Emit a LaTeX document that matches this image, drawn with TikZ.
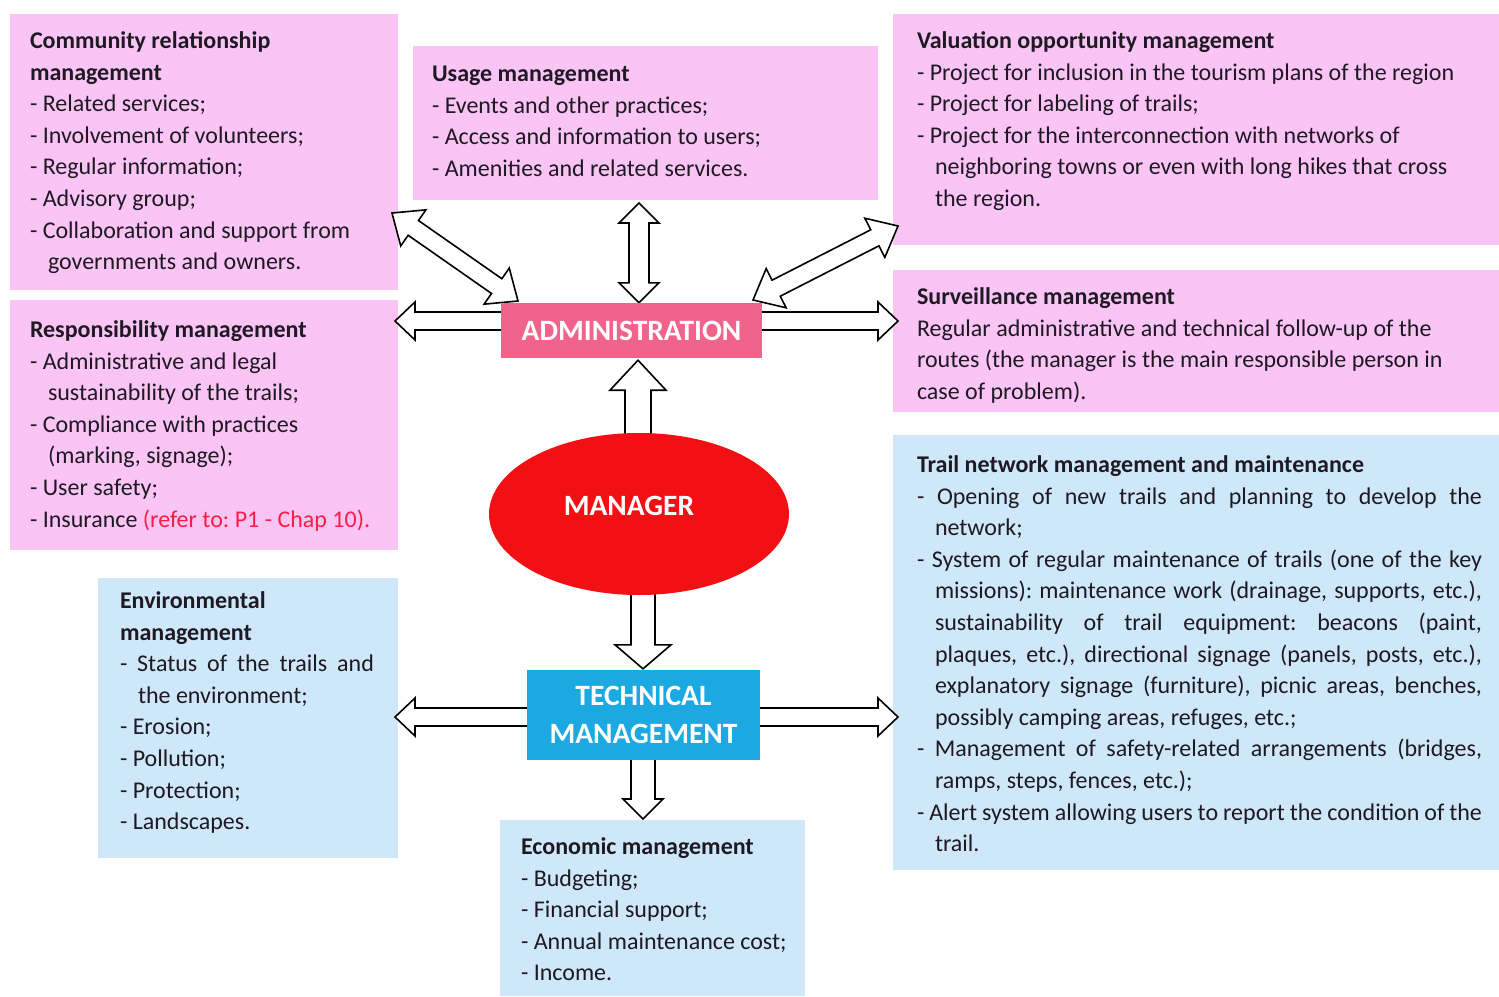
\documentclass[tikz,border=0pt]{standalone}
\usepackage{fontspec}
\setmainfont{Carlito}
\usetikzlibrary{calc,shapes.geometric}
\definecolor{pinkbg}{RGB}{250,196,245}
\definecolor{bluebg}{RGB}{206,232,249}
\definecolor{adminc}{RGB}{240,100,140}
\definecolor{mgrc}{RGB}{243,16,20}
\definecolor{techc}{RGB}{28,168,224}
\definecolor{txtc}{RGB}{30,25,35}
\definecolor{refc}{RGB}{250,30,70}
\pgfdeclarelayer{bg}\pgfdeclarelayer{arr}\pgfsetlayers{bg,arr,main}
\frenchspacing
\newcommand\ind{\hspace*{18pt}}
\newcommand\st{\rule{0pt}{19pt}}
% single block arrow: from, to, shaft half width, head half width, head length
\newcommand\sarrow[5]{\draw[blk] let \p1=(#1),\p2=(#2),\n1={atan2(\y2-\y1,\x2-\x1)},\n2={veclen(\x2-\x1,\y2-\y1)} in [shift={(\p1)},rotate=\n1] (0pt,-#3) -- ({\n2-#5},-#3) -- ({\n2-#5},-#4) -- ({\n2+0pt},0pt) -- ({\n2-#5},#4) -- ({\n2-#5},#3) -- (0pt,#3) -- cycle;}
% double block arrow
\newcommand\darrow[5]{\draw[blk] let \p1=(#1),\p2=(#2),\n1={atan2(\y2-\y1,\x2-\x1)},\n2={veclen(\x2-\x1,\y2-\y1)} in [shift={(\p1)},rotate=\n1] (0pt,0pt) -- (#5,#4) -- (#5,#3) -- ({\n2-#5},#3) -- ({\n2-#5},#4) -- ({\n2+0pt},0pt) -- ({\n2-#5},-#4) -- ({\n2-#5},-#3) -- (#5,-#3) -- (#5,-#4) -- cycle;}
\tikzset{
  box/.style={inner sep=0pt, outer sep=0pt, anchor=north west},
  pinkbox/.style={box, fill=pinkbg},
  bluebox/.style={box, fill=bluebg},
  txt/.style={inner sep=0pt, outer sep=0pt, anchor=north west, align=left, text=txtc, font=\fontsize{24}{31.6}\selectfont\frenchspacing},
  blk/.style={draw=black, fill=white, line width=1.6pt, line join=miter},
  lbl/.style={text=white, font=\bfseries\fontsize{29.5}{38}\selectfont, inner sep=0pt}
}
\begin{document}
\begin{tikzpicture}[x=1pt,y=-1pt]
\useasboundingbox (0,0) rectangle (1499,996);
\begin{pgfonlayer}{bg}
\fill[white] (0,0) rectangle (1499,996);
% boxes
\node[pinkbox, minimum width=388pt, minimum height=276pt] (b1) at (10,14) {};
\node[pinkbox, minimum width=465pt, minimum height=154pt] (b2) at (413,46) {};
\node[pinkbox, minimum width=606pt, minimum height=231pt] (b3) at (893,14) {};
\node[pinkbox, minimum width=388pt, minimum height=250pt] (b4) at (10,300) {};
\node[pinkbox, minimum width=606pt, minimum height=142pt] (b5) at (893,270) {};
\node[bluebox, minimum width=300pt, minimum height=280pt] (b6) at (98,578) {};
\node[bluebox, minimum width=606pt, minimum height=435pt] (b7) at (893,435) {};
\node[bluebox, minimum width=305pt, minimum height=176pt] (b8) at (500,820) {};
% texts
\node[txt] (t1) at (30,29.5) {\st\textbf{Community relationship}\\ \textbf{management}\\ - Related services;\\ - Involvement of volunteers;\\ - Regular information;\\ - Advisory group;\\ - Collaboration and support from\\ \ind governments and owners.};
\node[txt] (t2) at (432,62.5) {\st\textbf{Usage management}\\ - Events and other practices;\\ - Access and information to users;\\ - Amenities and related services.};
\node[txt] (t3) at (917,29.5) {\st\textbf{Valuation opportunity management}\\ - Project for inclusion in the tourism plans of the region\\ - Project for labeling of trails;\\ - Project for the interconnection with networks of\\ \ind neighboring towns or even with long hikes that cross\\ \ind the region.};
\node[txt] (t4) at (30,318.5) {\st\textbf{Responsibility management}\\ - Administrative and legal\\ \ind sustainability of the trails;\\ - Compliance with practices\\ \ind (marking, signage);\\ - User safety;\\ - Insurance \textcolor{refc}{(refer to: P1 - Chap 10).}};
\node[txt] (t5) at (917,285.5) {\st\textbf{Surveillance management}\\ Regular administrative and technical follow-up of the\\ routes (the manager is the main responsible person in\\ case of problem).};
\node[txt] (t6) at (120,589.5) {\st\textbf{Environmental}\\ \textbf{management}\\ \makebox[254pt][s]{- Status of the trails and}\\ \ind the environment;\\ - Erosion;\\ - Pollution;\\ - Protection;\\ - Landscapes.};
\node[txt] (t7) at (917,453.5) {\st\textbf{Trail network management and maintenance}\\
\makebox[565pt][s]{- Opening of new trails and planning to develop the}\\
\ind network;\\
\makebox[565pt][s]{- System of regular maintenance of trails (one of the key}\\
\ind\makebox[547pt][s]{missions): maintenance work (drainage, supports, etc.),}\\
\ind\makebox[547pt][s]{sustainability of trail equipment: beacons (paint,}\\
\ind\makebox[547pt][s]{plaques, etc.), directional signage (panels, posts, etc.),}\\
\ind\makebox[547pt][s]{explanatory signage (furniture), picnic areas, benches,}\\
\ind possibly camping areas, refuges, etc.;\\
\makebox[565pt][s]{- Management of safety-related arrangements (bridges,}\\
\ind ramps, steps, fences, etc.);\\
\makebox[565pt][s]{- Alert system allowing users to report the condition of the}\\
\ind trail.};
\node[txt] (t8) at (521,835.5) {\st\textbf{Economic management}\\ - Budgeting;\\ - Financial support;\\ - Annual maintenance cost;\\ - Income.};
\end{pgfonlayer}
% central nodes
\node[rectangle, fill=adminc, minimum width=261pt, minimum height=55pt, lbl] (admin) at (631.5,330.5) {ADMINISTRATION};
\node[ellipse, fill=mgrc, minimum width=300pt, minimum height=162pt, inner sep=0pt] (mgr) at (639,514) {};
\node[lbl] (mgrlbl) at (629,506) {MANAGER};
\node[rectangle, fill=techc, minimum width=233pt, minimum height=90pt, lbl, align=center] (tech) at (643.5,715) {TECHNICAL\\MANAGEMENT};
% connector end points
\coordinate (uA1) at ($(admin.north)+(7.5,0)$);
\coordinate (uA2) at (639,203);
\coordinate (lA1) at ($(admin.west)+(10,-9.5)$);
\coordinate (lA2) at (395,321);
\coordinate (rA1) at ($(admin.east)+(-10,-9.5)$);
\coordinate (rA2) at (898,321);
\coordinate (ulA1) at (518,301);
\coordinate (ulA2) at (392,213);
\coordinate (urA1) at (753,300);
\coordinate (urA2) at (898,226);
\coordinate (mA1) at ($(mgr.north)+(-1,10)$);
\coordinate (mA2) at ($(admin.south)+(6.5,2)$);
\coordinate (dA1) at ($(mgr.south)+(4,-10)$);
\coordinate (dA2) at ($(tech.north)+(-0.5,-1)$);
\coordinate (tlA1) at ($(tech.west)+(10,2)$);
\coordinate (tlA2) at (395,717);
\coordinate (trA1) at ($(tech.east)+(-10,2)$);
\coordinate (trA2) at (898,717);
\coordinate (tdA1) at ($(tech.south)+(-0.5,-10)$);
\coordinate (tdA2) at (643,819);
\begin{pgfonlayer}{arr}
\darrow{uA1}{uA2}{10pt}{20pt}{20pt}
\sarrow{lA1}{lA2}{9pt}{19pt}{20pt}
\sarrow{rA1}{rA2}{9pt}{19pt}{20pt}
\darrow{ulA1}{ulA2}{9pt}{22pt}{26pt}
\darrow{urA1}{urA2}{9pt}{22pt}{26pt}
\sarrow{mA1}{mA2}{13pt}{28pt}{30pt}
\sarrow{dA1}{dA2}{12pt}{28pt}{24pt}
\sarrow{tlA1}{tlA2}{9pt}{19pt}{20pt}
\sarrow{trA1}{trA2}{9pt}{19pt}{20pt}
\sarrow{tdA1}{tdA2}{12pt}{20pt}{20pt}
\end{pgfonlayer}
\end{tikzpicture}
\end{document}
